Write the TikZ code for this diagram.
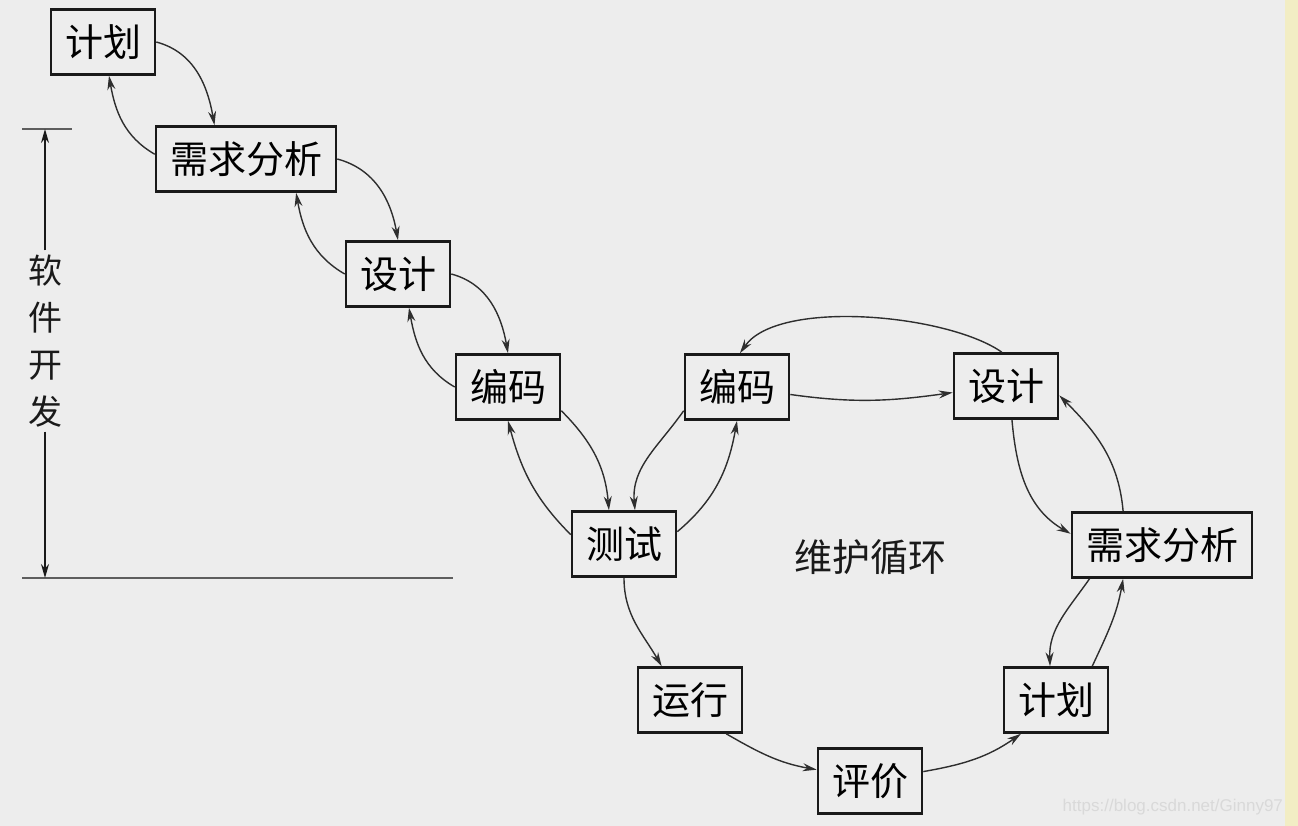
\documentclass[tikz,border=0pt]{standalone}
\usepackage{fontspec}
\usepackage{xcolor}
\usepackage{tikz}
\usetikzlibrary{arrows.meta}
\newfontfamily\cjk{Noto Sans CJK SC}
\setsansfont{Liberation Sans}
\definecolor{paper}{HTML}{EDEDED}
\definecolor{strip}{HTML}{F2EDC4}
\definecolor{inkc}{HTML}{1A1A1A}
\definecolor{linec}{HTML}{2E2E2E}
\definecolor{rulec}{HTML}{5E5E5E}
\tikzset{
  ar/.style={-{Stealth[length=7pt,width=4pt]},line width=0.7pt,linec},
  box/.style={draw=inkc,line width=1.3pt,fill=paper,minimum height=32.5pt,inner xsep=7pt,inner ysep=0pt,font=\cjk\fontsize{19}{19}\selectfont},
  lbl/.style={font=\cjk\fontsize{19}{19}\selectfont,inkc}
}
\begin{document}
\begin{tikzpicture}[x=0.5pt,y=0.5pt]
\useasboundingbox (0,0) rectangle (1298,826);
\fill[paper] (0,0) rectangle (1298,826);
\fill[strip] (1285,0) rectangle (1298,826);
% development chain
\node[box] (plan1) at (103,784) {计划};
\node[box] (req1) at (246,667) {需求分析};
\node[box] (des1) at (398,552) {设计};
\node[box] (code1) at (508,439) {编码};
\node[box] (test) at (624,282) {测试};
% maintenance loop
\node[box] (code2) at (737,439) {编码};
\node[box] (des2) at (1006,440) {设计};
\node[box] (req2) at (1162,281) {需求分析};
\node[box] (plan2) at (1056,126) {计划};
\node[box] (eval) at (870,45) {评价};
\node[box] (run) at (690,126) {运行};
\node[lbl] (loop) at (870,269) {维护循环};
% side scale
\node[inkc,font=\cjk\fontsize{17}{23.5}\selectfont,align=center,inner sep=2pt] (dev) at (45,485) {软\\件\\开\\发};
\coordinate (devtop) at (45,697);
\coordinate (devbot) at (45,248);
\draw[rulec,line width=0.8pt] (22,697) -- (72,697);
\draw[rulec,line width=1pt] (22,248) -- (453,248);
\draw[-{Stealth[length=7pt,width=4pt]},line width=0.8pt,inkc] (dev.north) -- (devtop);
\draw[-{Stealth[length=7pt,width=4pt]},line width=0.8pt,inkc] (dev.south) -- (devbot);
% arrows down the chain and back
\draw[ar] (plan1.east) to[out=-15,in=100] (req1.133);
\draw[ar] (req1.177) to[out=150,in=-80] (plan1.-80);
\draw[ar] (req1.east) to[out=-15,in=100] (des1.north);
\draw[ar] (des1.west) to[out=150,in=-80] (req1.-34);
\draw[ar] (des1.east) to[out=-15,in=100] (code1.north);
\draw[ar] (code1.west) to[out=150,in=-80] (des1.-72);
\draw[ar] (code1.-24) to[out=-45,in=95] (test.114);
\draw[ar] (test.170) to[out=135,in=-75] (code1.south);
% arrows round the loop
\draw[ar] (code2.-156) to[out=-125,in=95] (test.72);
\draw[ar] (test.13) to[out=40,in=-100] (code2.south);
\draw[ar] (code2.-8) to[out=-8,in=-172] (des2.-173);
\draw[ar] (des2.97) to[out=145,in=55,looseness=0.65] (code2.85);
\draw[ar] (des2.-80) to[out=-85,in=150] (req2.173);
\draw[ar] (req2.139) to[out=95,in=-45] (des2.-10);
\draw[ar] (req2.-155) to[out=-125,in=92] (plan2.100);
\draw[ar] (plan2.43) to[out=65,in=-100] (req2.-139);
\draw[ar] (test.south) to[out=-90,in=120] (run.130);
\draw[ar] (run.-43) to[out=-30,in=170] (eval.168);
\draw[ar] (eval.10) to[out=10,in=-145] (plan2.-136);
\node[font=\sffamily\fontsize{8.5}{8.5}\selectfont,white!85!black,anchor=east] (mark) at (1290,19) {https://blog.csdn.net/Ginny97};
\end{tikzpicture}
\end{document}
